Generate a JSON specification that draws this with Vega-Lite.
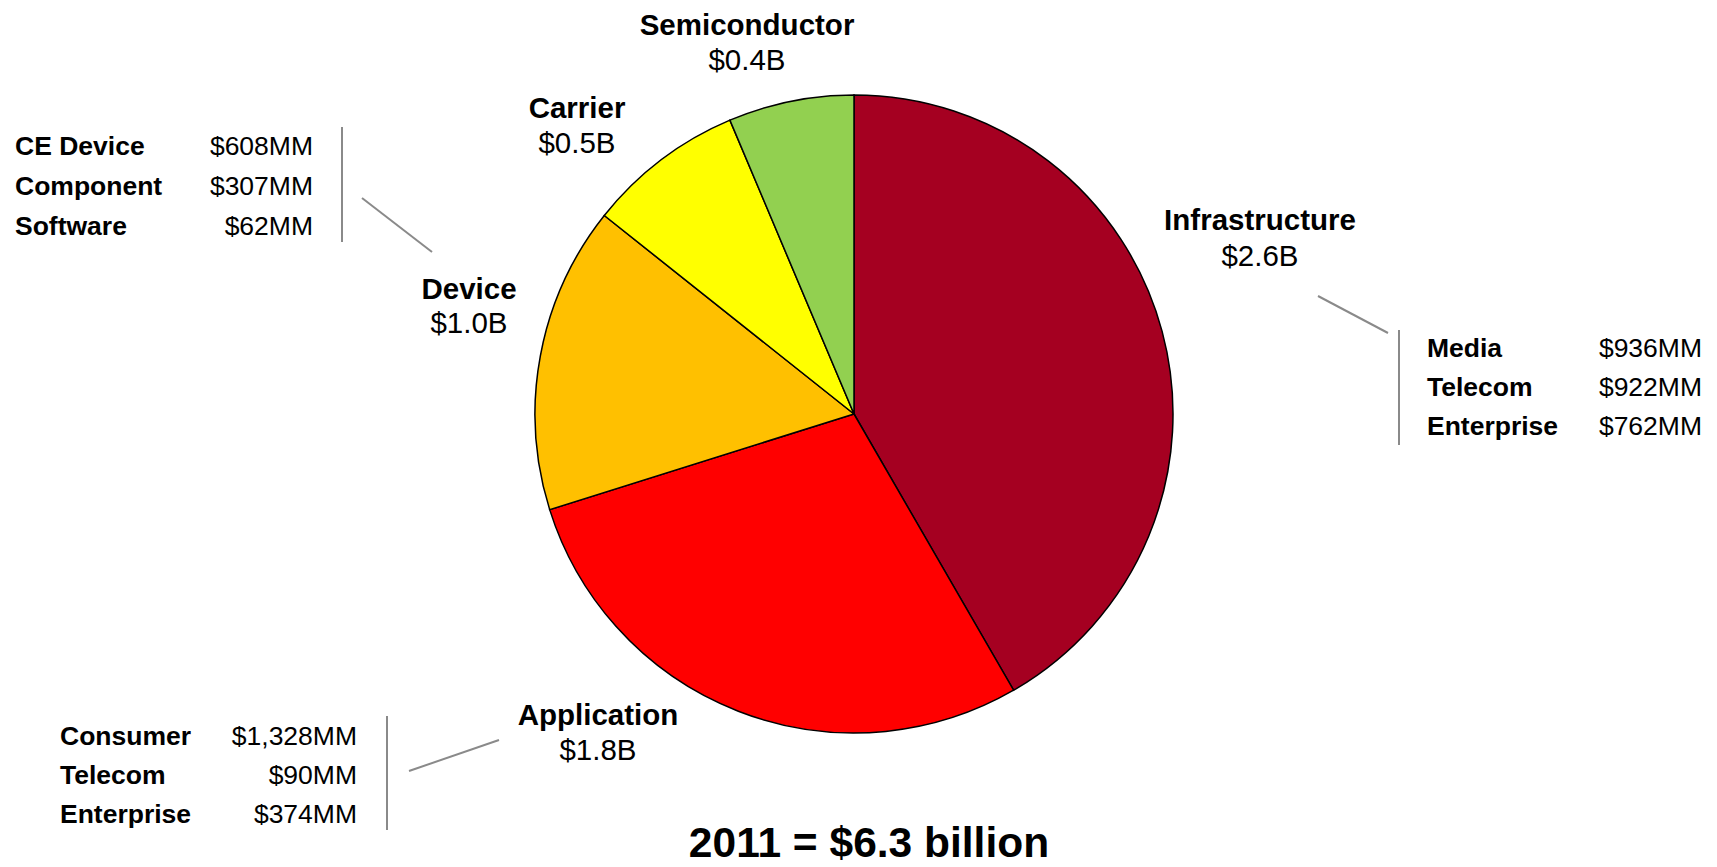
{
  "$schema": "https://vega.github.io/schema/vega-lite/v6.json",
  "autosize": {"type": "none"},
  "width": 1708,
  "height": 828,
  "padding": {"left": 0, "top": 0, "right": 9, "bottom": 39},
  "background": "white",
  "config": {"view": {"stroke": null}, "font": "Liberation Sans"},
  "datasets": {
    "slices": [
      {"segment": "Infrastructure", "value": 2.62, "idx": 1},
      {"segment": "Application", "value": 1.792, "idx": 2},
      {"segment": "Device", "value": 0.977, "idx": 3},
      {"segment": "Carrier", "value": 0.5, "idx": 4},
      {"segment": "Semiconductor", "value": 0.4, "idx": 5}
    ],
    "labels": [
      {"kind": "name", "text": "Infrastructure", "x": 1260, "y": 230},
      {"kind": "value", "text": "$2.6B", "x": 1260, "y": 266},
      {"kind": "name", "text": "Application", "x": 598, "y": 725},
      {"kind": "value", "text": "$1.8B", "x": 598, "y": 760},
      {"kind": "name", "text": "Device", "x": 469, "y": 299},
      {"kind": "value", "text": "$1.0B", "x": 469, "y": 333},
      {"kind": "name", "text": "Carrier", "x": 577, "y": 118},
      {"kind": "value", "text": "$0.5B", "x": 577, "y": 153},
      {"kind": "name", "text": "Semiconductor", "x": 747, "y": 35},
      {"kind": "value", "text": "$0.4B", "x": 747, "y": 70},
      {"kind": "tname", "text": "CE Device", "x": 15, "y": 155},
      {"kind": "tvalue", "text": "$608MM", "x": 313, "y": 155},
      {"kind": "tname", "text": "Component", "x": 15, "y": 195},
      {"kind": "tvalue", "text": "$307MM", "x": 313, "y": 195},
      {"kind": "tname", "text": "Software", "x": 15, "y": 235},
      {"kind": "tvalue", "text": "$62MM", "x": 313, "y": 235},
      {"kind": "tname", "text": "Media", "x": 1427, "y": 357},
      {"kind": "tvalue", "text": "$936MM", "x": 1702, "y": 357},
      {"kind": "tname", "text": "Telecom", "x": 1427, "y": 396},
      {"kind": "tvalue", "text": "$922MM", "x": 1702, "y": 396},
      {"kind": "tname", "text": "Enterprise", "x": 1427, "y": 435},
      {"kind": "tvalue", "text": "$762MM", "x": 1702, "y": 435},
      {"kind": "tname", "text": "Consumer", "x": 60, "y": 745},
      {"kind": "tvalue", "text": "$1,328MM", "x": 357, "y": 745},
      {"kind": "tname", "text": "Telecom", "x": 60, "y": 784},
      {"kind": "tvalue", "text": "$90MM", "x": 357, "y": 784},
      {"kind": "tname", "text": "Enterprise", "x": 60, "y": 823},
      {"kind": "tvalue", "text": "$374MM", "x": 357, "y": 823},
      {"kind": "title", "text": "2011 = $6.3 billion", "x": 869, "y": 857}
    ],
    "connectors": [
      {"x": 342, "y": 127, "x2": 342, "y2": 242},
      {"x": 1399, "y": 330, "x2": 1399, "y2": 445},
      {"x": 387, "y": 716, "x2": 387, "y2": 830},
      {"x": 362, "y": 198, "x2": 432, "y2": 252},
      {"x": 1318, "y": 296, "x2": 1388, "y2": 333},
      {"x": 409, "y": 771, "x2": 499, "y2": 740}
    ]
  },
  "layer": [
    {
      "data": {"name": "slices"},
      "mark": {"type": "arc", "outerRadius": 319, "stroke": "#000000", "strokeWidth": 1.5},
      "encoding": {
        "theta": {"field": "value", "type": "quantitative", "stack": true},
        "order": {"field": "idx", "type": "quantitative"},
        "color": {
          "field": "segment", "type": "nominal", "legend": null,
          "scale": {
            "domain": ["Infrastructure", "Application", "Device", "Carrier", "Semiconductor"],
            "range": ["#A50021", "#FF0000", "#FFC000", "#FFFF00", "#92D050"]
          }
        }
      }
    },
    {
      "data": {"name": "connectors"},
      "mark": {"type": "rule", "color": "#8a8a8a", "strokeWidth": 2},
      "encoding": {
        "x": {"field": "x", "type": "quantitative", "axis": null, "scale": {"domain": [0, 1708], "nice": false, "zero": false}},
        "y": {"field": "y", "type": "quantitative", "axis": null, "scale": {"domain": [0, 828], "nice": false, "zero": false, "reverse": true}},
        "x2": {"field": "x2"},
        "y2": {"field": "y2"}
      }
    },
    {
      "data": {"name": "labels"},
      "transform": [{"filter": "datum.kind === 'name'"}],
      "mark": {"type": "text", "fontWeight": "bold", "fontSize": 29.5, "align": "center", "baseline": "alphabetic", "color": "#000000"},
      "encoding": {
        "x": {"field": "x", "type": "quantitative", "axis": null, "scale": {"domain": [0, 1708], "nice": false, "zero": false}},
        "y": {"field": "y", "type": "quantitative", "axis": null, "scale": {"domain": [0, 828], "nice": false, "zero": false, "reverse": true}},
        "text": {"field": "text", "type": "nominal"}
      }
    },
    {
      "data": {"name": "labels"},
      "transform": [{"filter": "datum.kind === 'value'"}],
      "mark": {"type": "text", "fontWeight": "normal", "fontSize": 29.5, "align": "center", "baseline": "alphabetic", "color": "#000000"},
      "encoding": {
        "x": {"field": "x", "type": "quantitative", "axis": null, "scale": {"domain": [0, 1708], "nice": false, "zero": false}},
        "y": {"field": "y", "type": "quantitative", "axis": null, "scale": {"domain": [0, 828], "nice": false, "zero": false, "reverse": true}},
        "text": {"field": "text", "type": "nominal"}
      }
    },
    {
      "data": {"name": "labels"},
      "transform": [{"filter": "datum.kind === 'tname'"}],
      "mark": {"type": "text", "fontWeight": "bold", "fontSize": 26.5, "align": "left", "baseline": "alphabetic", "color": "#000000"},
      "encoding": {
        "x": {"field": "x", "type": "quantitative", "axis": null, "scale": {"domain": [0, 1708], "nice": false, "zero": false}},
        "y": {"field": "y", "type": "quantitative", "axis": null, "scale": {"domain": [0, 828], "nice": false, "zero": false, "reverse": true}},
        "text": {"field": "text", "type": "nominal"}
      }
    },
    {
      "data": {"name": "labels"},
      "transform": [{"filter": "datum.kind === 'tvalue'"}],
      "mark": {"type": "text", "fontWeight": "normal", "fontSize": 26.5, "align": "right", "baseline": "alphabetic", "color": "#000000"},
      "encoding": {
        "x": {"field": "x", "type": "quantitative", "axis": null, "scale": {"domain": [0, 1708], "nice": false, "zero": false}},
        "y": {"field": "y", "type": "quantitative", "axis": null, "scale": {"domain": [0, 828], "nice": false, "zero": false, "reverse": true}},
        "text": {"field": "text", "type": "nominal"}
      }
    },
    {
      "data": {"name": "labels"},
      "transform": [{"filter": "datum.kind === 'title'"}],
      "mark": {"type": "text", "fontWeight": "bold", "fontSize": 42.5, "align": "center", "baseline": "alphabetic", "color": "#000000"},
      "encoding": {
        "x": {"field": "x", "type": "quantitative", "axis": null, "scale": {"domain": [0, 1708], "nice": false, "zero": false}},
        "y": {"field": "y", "type": "quantitative", "axis": null, "scale": {"domain": [0, 828], "nice": false, "zero": false, "reverse": true}},
        "text": {"field": "text", "type": "nominal"}
      }
    }
  ]
}
